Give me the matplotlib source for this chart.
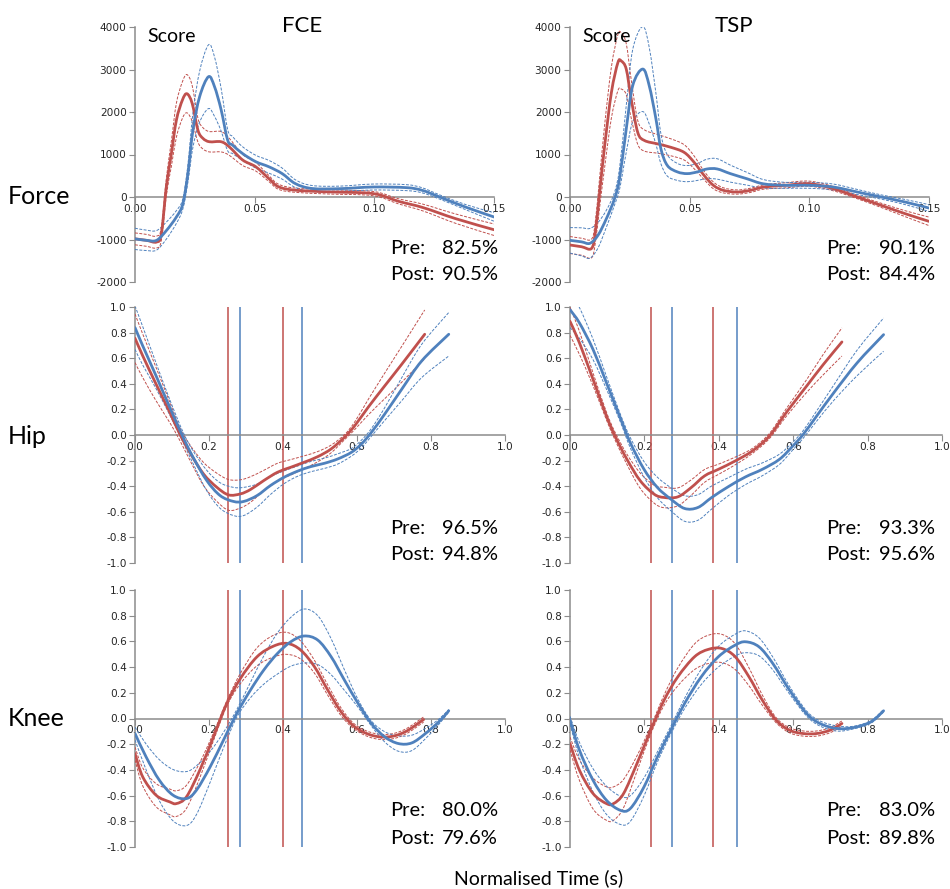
import numpy as np
import matplotlib
matplotlib.use("Agg")
import matplotlib.pyplot as plt
from matplotlib.path import Path
from matplotlib.patches import PathPatch

plt.rcParams['axes.unicode_minus'] = False

RED = '#C0504D'
BLUE = '#4F81BD'

# ---------------- Force (Score) ----------------
fce_force_red_x = [0, 0.0048, 0.009, 0.011, 0.0131, 0.0152, 0.0173, 0.0198, 0.0217, 0.0239, 0.0263, 0.0284, 0.0311, 0.036, 0.0394, 0.045, 0.0505, 0.056, 0.060, 0.067, 0.081, 0.0995, 0.11, 0.1204, 0.134, 0.15]
fce_force_red_y = [-985, -1020, -1060, -870, 240, 1020, 1810, 2280, 2430, 2200, 1570, 1380, 1300, 1300, 1180, 870, 710, 430, 240, 160, 120, 80, -100, -250, -510, -770]
fce_force_red_sd = [140, 140, 140, 150, 200, 300, 400, 430, 450, 420, 280, 250, 240, 240, 200, 130, 100, 70, 60, 50, 50, 50, 60, 80, 110, 135]

fce_force_blue_x = [0, 0.0048, 0.009, 0.0131, 0.0173, 0.020, 0.0221, 0.0242, 0.027, 0.0307, 0.0332, 0.036, 0.0387, 0.0408, 0.045, 0.0505, 0.056, 0.0615, 0.067, 0.074, 0.0856, 0.0995, 0.1134, 0.12, 0.1273, 0.138, 0.15]
fce_force_blue_y = [-985, -1020, -1020, -790, -470, -160, 550, 1570, 2360, 2830, 2600, 2050, 1340, 1220, 1020, 830, 710, 550, 315, 200, 196, 235, 220, 157, 0, -235, -470]
fce_force_blue_sd = [250, 240, 230, 200, 150, 120, 200, 400, 600, 750, 700, 500, 250, 200, 160, 150, 150, 130, 90, 70, 60, 70, 70, 60, 50, 60, 100]

tsp_force_red_x = [0, 0.0048, 0.009, 0.0106, 0.0124, 0.0145, 0.0173, 0.020, 0.0214, 0.0235, 0.0256, 0.0283, 0.0311, 0.0366, 0.0421, 0.0477, 0.0518, 0.056, 0.060, 0.0642, 0.0698, 0.0753, 0.081, 0.09, 0.10, 0.11, 0.12, 0.13, 0.14, 0.15]
tsp_force_red_y = [-1130, -1170, -1210, -820, 120, 1210, 2460, 3160, 3200, 3010, 2300, 1520, 1330, 1250, 1170, 1050, 820, 510, 270, 155, 117, 156, 235, 275, 313, 196, 0, -196, -392, -573]
tsp_force_red_sd = [200, 200, 220, 250, 350, 500, 600, 660, 660, 600, 450, 280, 250, 220, 200, 180, 150, 100, 80, 60, 50, 50, 50, 60, 60, 50, 40, 50, 70, 100]

tsp_force_blue_x = [0, 0.0048, 0.0083, 0.0117, 0.0152, 0.0186, 0.0207, 0.0235, 0.0262, 0.0304, 0.0331, 0.0359, 0.038, 0.0407, 0.0449, 0.049, 0.0532, 0.0573, 0.0615, 0.067, 0.0739, 0.0808, 0.09, 0.10, 0.11, 0.12, 0.13, 0.14, 0.15]
tsp_force_blue_y = [-1020, -1055, -1090, -900, -510, -40, 430, 1600, 2620, 3010, 2620, 1840, 1130, 740, 590, 550, 590, 660, 660, 550, 430, 310, 275, 275, 235, 118, 0, -118, -260]
tsp_force_blue_sd = [300, 330, 350, 300, 200, 150, 250, 550, 850, 1000, 900, 600, 350, 250, 200, 190, 200, 230, 240, 200, 150, 100, 70, 70, 70, 60, 50, 60, 80]

# ---------------- Hip ----------------
fce_hip_red_x = [0, 0.021, 0.057, 0.094, 0.121, 0.148, 0.185, 0.221, 0.253, 0.285, 0.312, 0.348, 0.385, 0.421, 0.457, 0.494, 0.53, 0.566, 0.594, 0.63, 0.675, 0.721, 0.783]
fce_hip_red_y = [0.756, 0.618, 0.397, 0.177, 0.008, -0.135, -0.304, -0.408, -0.468, -0.46, -0.426, -0.356, -0.291, -0.252, -0.213, -0.169, -0.109, -0.018, 0.073, 0.216, 0.384, 0.553, 0.787]
fce_hip_red_sd = [0.19, 0.17, 0.13, 0.08, 0.05, 0.06, 0.09, 0.11, 0.12, 0.11, 0.10, 0.08, 0.07, 0.06, 0.05, 0.04, 0.03, 0.02, 0.03, 0.06, 0.10, 0.14, 0.19]

fce_hip_blue_x = [0, 0.021, 0.057, 0.094, 0.13, 0.157, 0.194, 0.23, 0.266, 0.294, 0.33, 0.366, 0.403, 0.439, 0.475, 0.512, 0.548, 0.585, 0.612, 0.639, 0.675, 0.721, 0.775, 0.848]
fce_hip_blue_y = [0.839, 0.696, 0.462, 0.216, -0.018, -0.174, -0.356, -0.473, -0.519, -0.519, -0.473, -0.395, -0.33, -0.283, -0.247, -0.221, -0.187, -0.135, -0.07, 0.021, 0.164, 0.358, 0.579, 0.787]
fce_hip_blue_sd = [0.17, 0.15, 0.10, 0.06, 0.04, 0.05, 0.08, 0.10, 0.11, 0.11, 0.09, 0.07, 0.05, 0.04, 0.04, 0.04, 0.04, 0.03, 0.03, 0.03, 0.05, 0.09, 0.13, 0.17]

tsp_hip_red_x = [0, 0.0255, 0.062, 0.098, 0.121, 0.153, 0.189, 0.226, 0.253, 0.29, 0.326, 0.362, 0.399, 0.444, 0.49, 0.536, 0.581, 0.636, 0.681, 0.731]
tsp_hip_red_y = [0.888, 0.719, 0.434, 0.148, -0.008, -0.19, -0.358, -0.462, -0.488, -0.483, -0.41, -0.319, -0.268, -0.203, -0.125, -0.008, 0.174, 0.382, 0.551, 0.727]
tsp_hip_red_sd = [0.11, 0.09, 0.05, 0.03, 0.03, 0.04, 0.06, 0.07, 0.08, 0.07, 0.06, 0.05, 0.04, 0.03, 0.02, 0.02, 0.03, 0.05, 0.08, 0.11]

tsp_hip_blue_x = [0, 0.0255, 0.062, 0.098, 0.135, 0.162, 0.199, 0.235, 0.271, 0.308, 0.344, 0.381, 0.426, 0.472, 0.517, 0.563, 0.599, 0.627, 0.663, 0.709, 0.772, 0.843]
tsp_hip_blue_y = [0.979, 0.875, 0.668, 0.408, 0.135, -0.06, -0.268, -0.41, -0.501, -0.574, -0.566, -0.488, -0.403, -0.327, -0.268, -0.19, -0.086, 0.005, 0.148, 0.33, 0.564, 0.784]
tsp_hip_blue_sd = [0.14, 0.12, 0.08, 0.05, 0.03, 0.04, 0.06, 0.08, 0.09, 0.10, 0.10, 0.09, 0.07, 0.06, 0.05, 0.04, 0.03, 0.03, 0.04, 0.06, 0.10, 0.13]

# ---------------- Knee ----------------
fce_knee_red_x = [0, 0.021, 0.057, 0.094, 0.112, 0.139, 0.175, 0.212, 0.248, 0.285, 0.33, 0.375, 0.412, 0.448, 0.485, 0.521, 0.557, 0.594, 0.639, 0.685, 0.73, 0.78]
fce_knee_red_y = [-0.273, -0.455, -0.597, -0.649, -0.662, -0.61, -0.403, -0.143, 0.117, 0.312, 0.481, 0.564, 0.584, 0.532, 0.403, 0.221, 0.052, -0.065, -0.13, -0.143, -0.104, -0.008]
fce_knee_red_sd = [0.05, 0.07, 0.09, 0.10, 0.10, 0.09, 0.06, 0.03, 0.02, 0.04, 0.07, 0.085, 0.085, 0.07, 0.05, 0.04, 0.03, 0.02, 0.02, 0.02, 0.02, 0.02]

fce_knee_blue_x = [0, 0.03, 0.066, 0.103, 0.139, 0.166, 0.203, 0.239, 0.275, 0.312, 0.348, 0.385, 0.421, 0.457, 0.494, 0.53, 0.566, 0.603, 0.639, 0.675, 0.712, 0.748, 0.785, 0.821, 0.848]
fce_knee_blue_y = [-0.117, -0.299, -0.481, -0.597, -0.623, -0.558, -0.377, -0.169, 0.039, 0.221, 0.377, 0.506, 0.597, 0.642, 0.61, 0.481, 0.299, 0.117, -0.039, -0.143, -0.195, -0.19, -0.117, -0.026, 0.06]
fce_knee_blue_sd = [0.05, 0.10, 0.16, 0.20, 0.21, 0.19, 0.12, 0.06, 0.03, 0.06, 0.11, 0.16, 0.19, 0.21, 0.19, 0.14, 0.08, 0.03, 0.02, 0.04, 0.06, 0.06, 0.04, 0.02, 0.01]

tsp_knee_red_x = [0, 0.0255, 0.062, 0.098, 0.117, 0.144, 0.18, 0.217, 0.253, 0.29, 0.335, 0.372, 0.408, 0.444, 0.481, 0.517, 0.554, 0.59, 0.627, 0.663, 0.699, 0.731]
tsp_knee_red_y = [-0.195, -0.403, -0.584, -0.662, -0.662, -0.584, -0.351, -0.091, 0.143, 0.325, 0.481, 0.538, 0.545, 0.481, 0.325, 0.143, -0.013, -0.091, -0.117, -0.117, -0.091, -0.039]
tsp_knee_red_sd = [0.05, 0.08, 0.12, 0.13, 0.13, 0.11, 0.06, 0.03, 0.04, 0.07, 0.10, 0.11, 0.11, 0.10, 0.07, 0.04, 0.02, 0.02, 0.02, 0.02, 0.02, 0.02]

tsp_knee_blue_x = [0, 0.0255, 0.062, 0.098, 0.135, 0.162, 0.199, 0.235, 0.271, 0.308, 0.353, 0.399, 0.444, 0.472, 0.508, 0.545, 0.59, 0.636, 0.672, 0.718, 0.763, 0.809, 0.843]
tsp_knee_blue_y = [-0.013, -0.247, -0.481, -0.636, -0.714, -0.701, -0.532, -0.299, -0.091, 0.117, 0.325, 0.481, 0.571, 0.597, 0.558, 0.429, 0.221, 0.039, -0.039, -0.078, -0.07, -0.026, 0.06]
tsp_knee_blue_sd = [0.03, 0.06, 0.09, 0.11, 0.11, 0.10, 0.07, 0.04, 0.03, 0.04, 0.06, 0.08, 0.085, 0.085, 0.07, 0.05, 0.03, 0.02, 0.02, 0.02, 0.01, 0.01, 0.01]

# Phase markers (vertical lines)
fce_red_events = [0.25, 0.40]
fce_blue_events = [0.284, 0.45]
tsp_red_events = [0.219, 0.385]
tsp_blue_events = [0.273, 0.449]

# Scores
fce_scores = {'Force': ('82.5%', '90.5%'), 'Hip': ('96.5%', '94.8%'), 'Knee': ('80.0%', '79.6%')}
tsp_scores = {'Force': ('90.1%', '84.4%'), 'Hip': ('93.3%', '95.6%'), 'Knee': ('83.0%', '89.8%')}

# ---------------------------------------------------------------
W, H = 950, 889
fig = plt.figure(figsize=(W / 100, H / 100), dpi=100)
TXT = 'Lato'


def px_axes(left, right, top, bottom):
    return fig.add_axes([left / W, 1 - bottom / H, (right - left) / W, (bottom - top) / H])


def smooth_path(x, y):
    pts = np.column_stack([np.asarray(x, float), np.asarray(y, float)])
    verts = [pts[0]]
    codes = [Path.MOVETO]
    n = len(pts)
    for i in range(n - 1):
        p0 = pts[i - 1] if i > 0 else pts[i]
        p1 = pts[i]
        p2 = pts[i + 1]
        p3 = pts[i + 2] if i + 2 < n else pts[i + 1]
        c1 = p1 + (p2 - p0) / 6.0
        c2 = p2 - (p3 - p1) / 6.0
        verts += [c1, c2, p2]
        codes += [Path.CURVE4] * 3
    return Path(verts, codes)


def draw_series(ax, x, y, sd, color):
    y = np.asarray(y, float)
    sd = np.asarray(sd, float)
    for yy in (y + sd, y - sd):
        ax.add_patch(PathPatch(smooth_path(x, yy), fill=False, edgecolor=color,
                               lw=0.7, linestyle=(0, (3, 1.5)), zorder=3))
    ax.add_patch(PathPatch(smooth_path(x, y), fill=False, edgecolor=color,
                           lw=2.0, capstyle='round', joinstyle='round', zorder=4))


def style_axes(ax, xlim, ylim, xticks, yticks, xfmt, yfmt):
    ax.set_xlim(*xlim)
    ax.set_ylim(*ylim)
    ax.patch.set_alpha(0)
    for s in ('top', 'right'):
        ax.spines[s].set_visible(False)
    ax.spines['left'].set_color('#8C8C8C')
    ax.spines['left'].set_linewidth(1.1)
    ax.spines['bottom'].set_position(('data', 0))
    ax.spines['bottom'].set_color('#8C8C8C')
    ax.spines['bottom'].set_linewidth(1.1)
    ax.set_xticks(xticks)
    ax.set_yticks(yticks)
    ax.set_xticklabels([xfmt % v for v in xticks], family='DejaVu Sans', fontsize=7.6, color='#262626')
    ax.set_yticklabels([yfmt % v for v in yticks], family='DejaVu Sans', fontsize=7.6, color='#262626')
    ax.tick_params(axis='both', direction='out', length=4, width=0.8, color='#8C8C8C', pad=2)
    ax.tick_params(axis='x', pad=1)


def score_text(ax_right_px, left_px, y1, y2, pre, post):
    fig.text(left_px / W, 1 - y1 / H, 'Pre:', ha='left', va='center', family=TXT, fontsize=14.5)
    fig.text(ax_right_px / W, 1 - y1 / H, pre, ha='right', va='center', family=TXT, fontsize=14.5)
    fig.text(left_px / W, 1 - y2 / H, 'Post:', ha='left', va='center', family=TXT, fontsize=14.5)
    fig.text(ax_right_px / W, 1 - y2 / H, post, ha='right', va='center', family=TXT, fontsize=14.5)


cols = [
    dict(name='FCE', left=135, fright=494, jright=505, txt_left=390, txt_right=498,
         force=(fce_force_red_x, fce_force_red_y, fce_force_red_sd, fce_force_blue_x, fce_force_blue_y, fce_force_blue_sd),
         hip=(fce_hip_red_x, fce_hip_red_y, fce_hip_red_sd, fce_hip_blue_x, fce_hip_blue_y, fce_hip_blue_sd),
         knee=(fce_knee_red_x, fce_knee_red_y, fce_knee_red_sd, fce_knee_blue_x, fce_knee_blue_y, fce_knee_blue_sd),
         red_ev=fce_red_events, blue_ev=fce_blue_events, scores=fce_scores, title_x=302, score_x=172),
    dict(name='TSP', left=570, fright=929, jright=942, txt_left=826, txt_right=935,
         force=(tsp_force_red_x, tsp_force_red_y, tsp_force_red_sd, tsp_force_blue_x, tsp_force_blue_y, tsp_force_blue_sd),
         hip=(tsp_hip_red_x, tsp_hip_red_y, tsp_hip_red_sd, tsp_hip_blue_x, tsp_hip_blue_y, tsp_hip_blue_sd),
         knee=(tsp_knee_red_x, tsp_knee_red_y, tsp_knee_red_sd, tsp_knee_blue_x, tsp_knee_blue_y, tsp_knee_blue_sd),
         red_ev=tsp_red_events, blue_ev=tsp_blue_events, scores=tsp_scores, title_x=734, score_x=607),
]

force_ticks_x = [0.0, 0.05, 0.10, 0.15]
force_ticks_y = [-2000, -1000, 0, 1000, 2000, 3000, 4000]
joint_ticks_x = [0.0, 0.2, 0.4, 0.6, 0.8, 1.0]
joint_ticks_y = [-1.0, -0.8, -0.6, -0.4, -0.2, 0.0, 0.2, 0.4, 0.6, 0.8, 1.0]

for c in cols:
    # Force
    ax = px_axes(c['left'], c['fright'], 27, 282)
    style_axes(ax, (0, 0.15), (-2000, 4000), force_ticks_x, force_ticks_y, '%.2f', '%d')
    rx, ry, rsd, bx, by, bsd = c['force']
    draw_series(ax, rx, ry, rsd, RED)
    draw_series(ax, bx, by, bsd, BLUE)
    pre, post = c['scores']['Force']
    score_text(c['txt_right'], c['txt_left'], 248, 275, pre, post)

    # Hip and knee
    for key, top, bottom, y1, y2 in (('hip', 307, 563, 528, 555), ('knee', 590, 847, 811, 838)):
        ax = px_axes(c['left'], c['jright'], top, bottom)
        style_axes(ax, (0, 1.0), (-1.0, 1.0), joint_ticks_x, joint_ticks_y, '%.1f', '%.1f')
        for v in c['red_ev']:
            ax.axvline(v, color=RED, lw=1.1, zorder=2)
        for v in c['blue_ev']:
            ax.axvline(v, color=BLUE, lw=1.1, zorder=2)
        rx, ry, rsd, bx, by, bsd = c[key]
        draw_series(ax, rx, ry, rsd, RED)
        draw_series(ax, bx, by, bsd, BLUE)
        pre, post = c['scores'][key.capitalize()]
        score_text(c['txt_right'], c['txt_left'], y1, y2, pre, post)

    fig.text(c['title_x'] / W, 1 - 26 / H, c['name'], ha='center', va='center', family=TXT, fontsize=16)
    fig.text(c['score_x'] / W, 1 - 37 / H, 'Score', ha='center', va='center', family=TXT, fontsize=14)

for label, yc in (('Force', 197), ('Hip', 437), ('Knee', 718)):
    fig.text(8 / W, 1 - yc / H, label, ha='left', va='center', family=TXT, fontsize=18)

fig.text(539 / W, 1 - 878 / H, 'Normalised Time (s)', ha='center', va='center', family=TXT, fontsize=14)

fig.savefig('out.png', dpi=100)
